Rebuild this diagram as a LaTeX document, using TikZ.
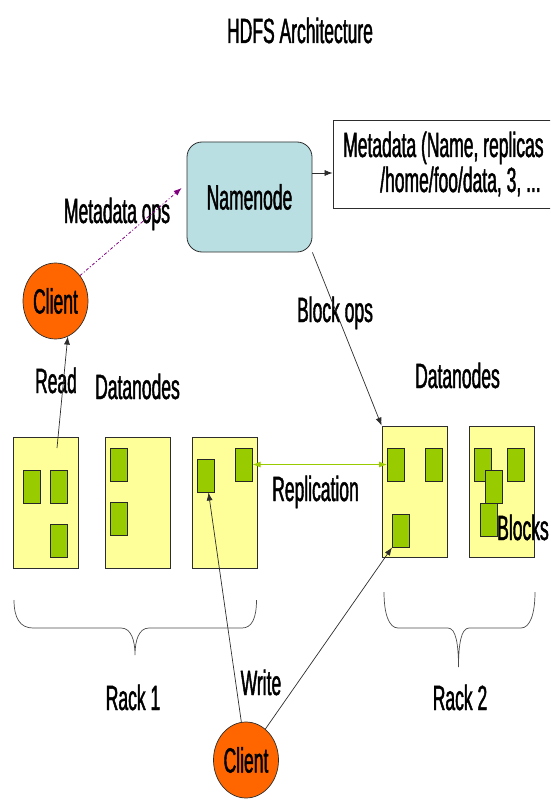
\documentclass[tikz,border=0pt]{standalone}
\usepackage{fontspec}
\setmainfont[FakeStretch=0.5,FakeBold=1.2]{Liberation Sans}
\usepackage{tikz}
\usetikzlibrary{arrows.meta}
\usetikzlibrary{shapes.geometric}
\usetikzlibrary{calc}
\definecolor{nnblue}{RGB}{185,223,227}
\definecolor{dnyellow}{RGB}{255,255,153}
\definecolor{blkgreen}{RGB}{153,204,0}
\definecolor{clientorange}{RGB}{255,102,0}
\definecolor{edgegray}{RGB}{45,45,45}
\definecolor{opspurple}{RGB}{128,0,128}
\tikzstyle{namenode} = [rectangle, rounded corners=15pt, draw=edgegray, fill=nnblue,
    line width=0.8pt, minimum width=125pt, minimum height=110pt, inner sep=0pt]
\tikzstyle{metabox} = [rectangle, draw=edgegray, fill=white, line width=0.8pt,
    minimum width=267pt, minimum height=88pt, inner sep=0pt]
\tikzstyle{datanode} = [rectangle, draw=edgegray, fill=dnyellow, line width=0.8pt,
    minimum width=65pt, minimum height=131pt, inner sep=0pt]
\tikzstyle{block} = [rectangle, draw=black!85, fill=blkgreen, line width=1pt,
    minimum width=17pt, minimum height=33pt, inner sep=0pt]
\tikzstyle{client} = [ellipse, draw=edgegray, fill=clientorange, line width=0.7pt,
    minimum width=65pt, minimum height=76pt, inner sep=0pt]
\tikzstyle{lbl} = [anchor=base, inner sep=0pt]
\tikzstyle{wire} = [draw=edgegray, line width=0.7pt]
\tikzset{>={Latex[length=8pt,width=6pt]}}

\begin{document}
\begin{tikzpicture}[x=1pt,y=-1pt,font=\fontsize{35}{40}\selectfont]
\useasboundingbox (0,0) rectangle (550,805);
\clip (0,0) rectangle (550,805);
    %title
    \node[lbl] (title) at (300,43) {HDFS Architecture};
    %namenode and metadata
    \node[namenode] (nn) at (249.5,197) {Namenode};
    \node[metabox] (meta) at (466.5,164) {};
    \node[lbl,anchor=base west] (metaA) at (343,157) {Metadata (Name, replicas};
    \node[lbl,anchor=base west] (metaB) at (380,192) {/home/foo/data, 3, ...};
    %clients
    \node[client] (client1) at (55.5,301) {Client};
    \node[client] (client2) at (246,760) {Client};
    %datanodes, rack 1
    \node[datanode] (dn11) at (45.5,502.5) {};
    \node[datanode] (dn12) at (138,502.5) {};
    \node[datanode] (dn13) at (224.5,502.5) {};
    %datanodes, rack 2
    \node[datanode] (dn21) at (414.5,491.5) {};
    \node[datanode] (dn22) at (501.5,491.5) {};
    %blocks
    \node[block] (b11a) at (31.5,486.5) {};
    \node[block] (b11b) at (59,486.5) {};
    \node[block] (b11c) at (59,540.5) {};
    \node[block] (b12a) at (118.5,464.5) {};
    \node[block] (b12b) at (118.5,519) {};
    \node[block] (b13a) at (205.5,475.5) {};
    \node[block] (b13b) at (243.5,464.5) {};
    \node[block] (b21a) at (396,464.5) {};
    \node[block] (b21b) at (434,464.5) {};
    \node[block] (b21c) at (401,530.5) {};
    \node[block] (b22a) at (482.5,464.5) {};
    \node[block] (b22b) at (515.5,464.5) {};
    \node[block] (b22c) at (494,486.5) {};
    \node[block] (b22d) at (488.5,519.5) {};
    %labels
    \node[lbl] (mdops) at (117,223) {Metadata ops};
    \node[lbl] (blkops) at (335,322) {Block ops};
    \node[lbl] (read) at (56,393) {Read};
    \node[lbl] (dnlabA) at (137.5,399) {Datanodes};
    \node[lbl] (dnlabB) at (457.5,388) {Datanodes};
    \node[lbl] (repl) at (315.5,501) {Replication};
    \node[lbl,anchor=base west] (blocks) at (497,540) {Blocks};
    \node[lbl] (write) at (261,695) {Write};
    \node[lbl] (rack1) at (133,710) {Rack 1};
    \node[lbl] (rack2) at (460,710) {Rack 2};
    %lines
    \draw[->, opspurple, line width=0.8pt, dash pattern=on 3pt off 2pt on 1pt off 2pt]
        (client1.46) -- ($(nn.west)+(-5,-9)$);
    \draw[->, wire] ([yshift=24pt]nn.east) -- ([yshift=24pt]nn.east -| meta.west);
    \draw[->, wire] (nn.south east) -- (dn21.north west);
    \coordinate (readfrom) at (57,448);
    \draw[->, wire] (readfrom) -- (client1.-71);
    \draw[<->, blkgreen, line width=1pt] (b13b.east) -- (b21a.west);
    \draw[->, wire] (client2.97) -- ([xshift=3pt]b13a.south);
    \draw[->, wire] (client2.58) -- (b21c.south west);
    %racks
    \draw[wire, draw=edgegray!85] (14,600) .. controls (14,618) and (20,628) .. (33,628)
        -- (121,628) .. controls (131,628) and (135,640) .. (135,655)
        .. controls (135,640) and (139,628) .. (149,628) -- (242,628)
        .. controls (252,628) and (256.5,618) .. (256.5,600);
    \draw[wire, draw=edgegray!85] (384,592) .. controls (384,614) and (389,628) .. (398,628)
        -- (448,628) .. controls (456,628) and (458.5,645) .. (458.5,667)
        .. controls (458.5,645) and (461,628) .. (469,628) -- (521,628)
        .. controls (530,628) and (535,614) .. (535,592);
\end{tikzpicture}
\end{document}
